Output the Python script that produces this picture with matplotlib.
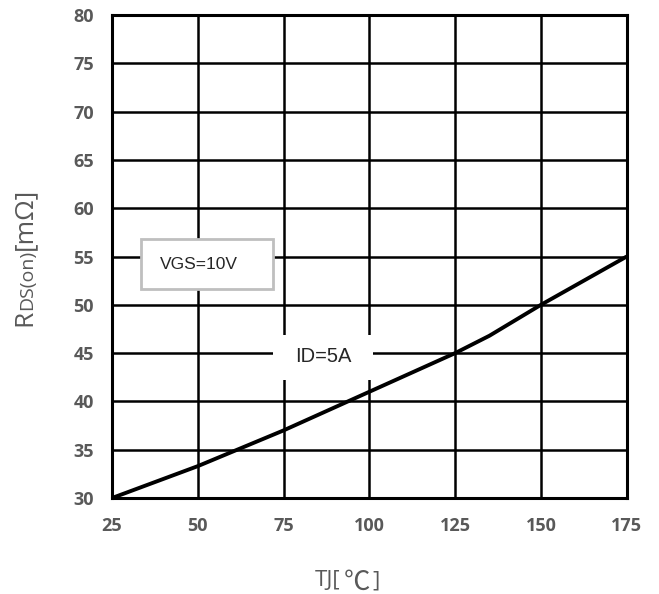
import matplotlib
matplotlib.use("Agg")
import matplotlib.pyplot as plt
from matplotlib.patches import Rectangle

# Junction temperature (°C) vs. on-resistance (mΩ)
tj = [25, 50, 75, 100, 125, 135, 150, 175]
rds_on = [30, 33.3, 37, 41, 45, 46.8, 50, 55]

x_ticks = [25, 50, 75, 100, 125, 150, 175]
y_ticks = [30, 35, 40, 45, 50, 55, 60, 65, 70, 75, 80]

label_gray = "#595959"

fig = plt.figure(figsize=(6.59, 5.94), dpi=100)
ax = fig.add_axes([0.170, 0.1616, 0.781, 0.8131])

ax.plot(tj, rds_on, color="black", lw=2.8, zorder=5, solid_capstyle="butt")

ax.set_xlim(25, 175)
ax.set_ylim(30, 80)
ax.set_xticks(x_ticks)
ax.set_yticks(y_ticks)
ax.grid(True, color="black", lw=1.8, zorder=1)
ax.set_axisbelow(True)
for s in ax.spines.values():
    s.set_linewidth(2.2)
    s.set_color("black")
ax.tick_params(axis="x", length=0, pad=14, labelsize=13, labelcolor=label_gray)
ax.tick_params(axis="y", length=0, pad=13, labelsize=13, labelcolor=label_gray)
for lab in ax.get_xticklabels() + ax.get_yticklabels():
    lab.set_fontweight("bold")
    lab.set_fontfamily("Open Sans")

# Condition labels
ax.add_patch(Rectangle((33.4, 51.6), 38.5, 5.2, facecolor="white",
                       edgecolor="#bfbfbf", lw=2.0, zorder=3))
ax.text(39.0, 54.2, "VGS=10V", fontsize=12.5, family="Liberation Sans",
        color="#262626", ha="left", va="center", zorder=4)

ax.add_patch(Rectangle((71.9, 42.2), 29.1, 4.7, facecolor="white",
                       edgecolor="none", zorder=3))
ax.text(86.5, 44.6, "ID=5A", fontsize=14.5, family="Liberation Sans",
        color="#262626", ha="center", va="center", zorder=4)

# X axis label: TJ[ ℃ ] with an enlarged degree-Celsius sign
x1 = fig.text(315 / 659, 1 - 586 / 594, "TJ[", fontsize=16,
              color=label_gray, ha="left", va="baseline", family="Open Sans")
x2 = ax.annotate("\u2103", xy=(1.0, 0.0), xycoords=x1, xytext=(2.5, -3.2),
                 textcoords="offset points", fontsize=19, color=label_gray,
                 ha="left", va="bottom",
                 family=["Noto Sans CJK SC", "DejaVu Sans"],
                 annotation_clip=False)
x3 = ax.annotate("]", xy=(1.0, 0.0), xycoords=x2, xytext=(1.5, 3.2),
                 textcoords="offset points", fontsize=16, color=label_gray,
                 ha="left", va="bottom", family="Open Sans",
                 annotation_clip=False)

# Y axis label built from pieces: R, DS(on) (smaller), [mΩ]
t1 = fig.text(25 / 659, 1 - 326 / 594, "R", rotation=90, fontsize=19,
              color=label_gray, ha="center", va="bottom", family="Open Sans")
t2 = ax.annotate("DS(on)", xy=(0.5, 1.0), xycoords=t1, rotation=90,
                 fontsize=14, color=label_gray, ha="center", va="bottom",
                 family="Open Sans", annotation_clip=False,
                 xytext=(1.8, 0), textcoords="offset points")
t3 = ax.annotate("[m\u03a9]", xy=(0.5, 1.0), xycoords=t2, rotation=90,
                 fontsize=19, color=label_gray, ha="center", va="bottom",
                 family="Open Sans", annotation_clip=False,
                 xytext=(-1.8, 0), textcoords="offset points")

fig.savefig("out.png", dpi=100)
